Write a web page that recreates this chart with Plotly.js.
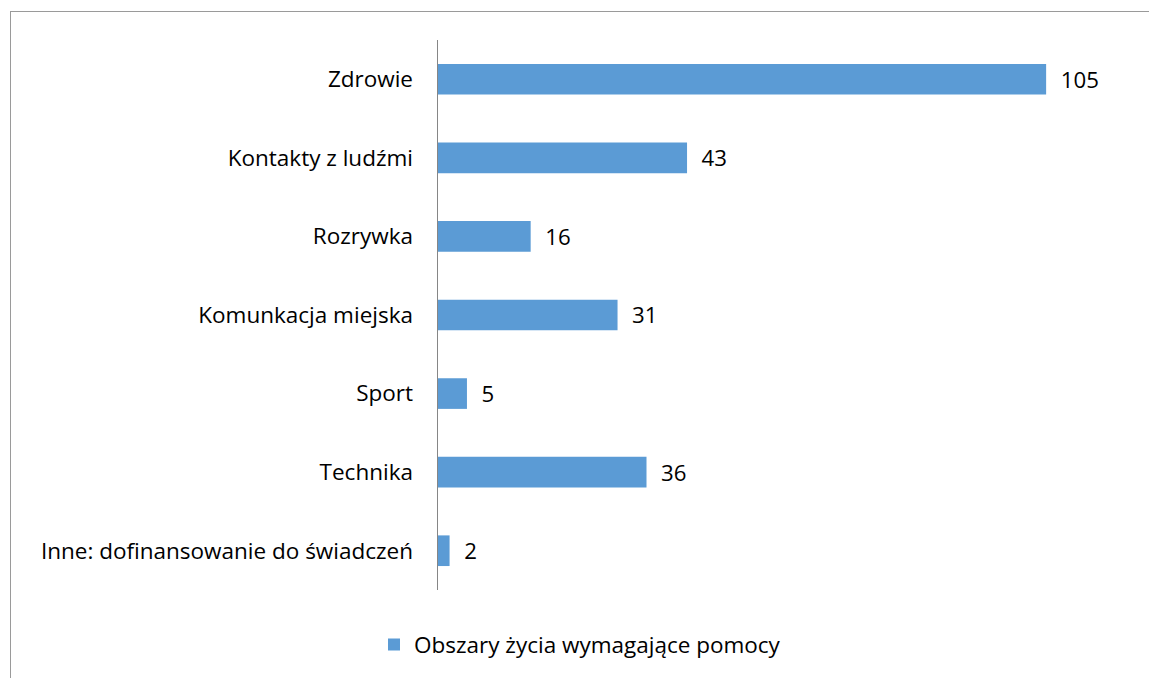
<!DOCTYPE html>
<html><head><meta charset="utf-8">
<script src="https://cdn.plot.ly/plotly-3.0.1.min.js"></script>
<style>
html,body{margin:0;padding:0;background:#fff;}
#frame{position:absolute;left:10px;top:11px;width:1139px;height:667px;border-left:1px solid #9a9a9a;border-top:1px solid #9a9a9a;box-sizing:border-box;}
#chart{position:absolute;left:0;top:0;width:1149px;height:678px;}
</style>
</head><body>
<div id="frame"></div>
<div id="chart"></div>
<script>
const categories = ["Zdrowie","Kontakty z ludźmi","Rozrywka","Komunkacja miejska","Sport","Technika","Inne: dofinansowanie do świadczeń"];
const values = [105,43,16,31,5,36,2];
const seriesName = "Obszary życia wymagające pomocy";

const font = {family:"'Open Sans', sans-serif", size:22.5, color:"#000"};

const trace = {
  type:"bar", orientation:"h",
  y: categories, x: values, name: seriesName,
  marker:{color:"#5B9BD5"},
  text: values.map(String),
  texttemplate:"\u00a0\u00a0%{x}",
  textposition:"outside", cliponaxis:false,
  textfont: font,
  hoverinfo:"x+y"
};

const layout = {
  width:1149, height:678,
  margin:{l:438, r:16, t:40, b:88},
  paper_bgcolor:"rgba(0,0,0,0)", plot_bgcolor:"rgba(0,0,0,0)",
  font: font,
  bargap:0.61,
  showlegend:true,
  legend:{orientation:"h", xref:"container", yref:"container", x:0.3255, xanchor:"left", y:0.049, yanchor:"middle", font:font, itemwidth:30},
  xaxis:{range:[0,120], showgrid:false, zeroline:false, showticklabels:false, showline:false, fixedrange:true},
  yaxis:{autorange:"reversed", showline:true, linecolor:"#868686", linewidth:1.5, showgrid:false, ticks:"", ticklabelstandoff:19, tickfont:font, fixedrange:true}
};

Plotly.newPlot("chart",[trace],layout,{displayModeBar:false, staticPlot:true});
</script>
</body></html>
